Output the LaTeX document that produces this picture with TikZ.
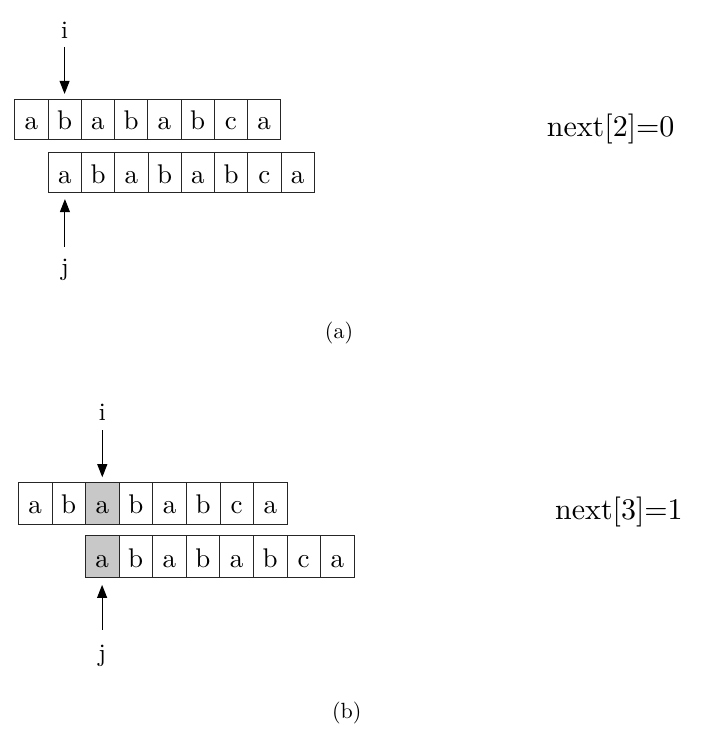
\documentclass[tikz,border=0pt]{standalone}
\usepackage{fontspec}
\setmainfont{lmroman10-regular.otf}
\usetikzlibrary{arrows.meta}
\definecolor{shade}{RGB}{200,200,200}
\begin{document}
\begin{tikzpicture}[x=1pt,y=-1pt,
  cellA/.style={draw=black!85,line width=0.8pt,minimum width=33.25pt,minimum height=40pt,inner sep=0pt,
    font=\fontsize{27}{27}\selectfont,text height=21pt,text depth=0pt},
  cellB/.style={cellA,minimum width=33.6pt,minimum height=42pt},
  hl/.style={fill=shade},
  lbl/.style={inner sep=0pt,font=\fontsize{25}{25}\selectfont},
  nextlbl/.style={inner sep=0pt,font=\fontsize{30}{30}\selectfont,anchor=base west},
  captxt/.style={inner sep=0pt,font=\fontsize{22}{22}\selectfont,anchor=base},
  arr/.style={line width=1.1pt,-{Triangle[length=13pt,width=10pt]}}]
\useasboundingbox (0,0) rectangle (704,746);
% ---------- (a) ----------
\foreach \l [count=\k] in {a,b,a,b,a,b,c,a}
  \node[cellA] (pa\k) at ({14.7+33.25*(\k-0.5)},119.3) {\l};
\foreach \l [count=\k] in {a,b,a,b,a,b,c,a}
  \node[cellA] (qa\k) at ({48.3+33.25*(\k-0.5)},172.7) {\l};
\node[lbl,anchor=base] (ia) at (pa2 |- 0,38.3) {i};
\node[lbl,anchor=base] (ja) at (qa1 |- 0,275) {j};
\draw[arr,shorten <=8.4pt,shorten >=5pt] (ia) -- (pa2);
\draw[arr,shorten <=11.5pt,shorten >=6pt] (ja) -- (qa1);
\node[nextlbl] (na) at (546.7,137) {next[2]=0};
\node[captxt] (capa) at (339,338) {(a)};
% ---------- (b) ----------
\foreach \l [count=\k] in {a,b,a,b,a,b,c,a}
  \node[cellB] (pb\k) at ({18.3+33.6*(\k-0.5)},503) {\l};
\foreach \l [count=\k] in {a,b,a,b,a,b,c,a}
  \node[cellB] (qb\k) at ({85.3+33.6*(\k-0.5)},556.5) {\l};
\node[cellB,hl] at (pb3) {a};
\node[cellB,hl] at (qb1) {a};
\node[lbl,anchor=base] (ib) at (pb3 |- 0,420) {i};
\node[lbl,anchor=base] (jb) at (qb1 |- 0,661) {j};
\draw[arr,shorten <=10pt,shorten >=4.4pt] (ib) -- (pb3);
\draw[arr,shorten <=14.5pt,shorten >=7pt] (jb) -- (qb1);
\node[nextlbl] (nb) at (555,519) {next[3]=1};
\node[captxt] (capb) at (346.7,718.3) {(b)};
\end{tikzpicture}
\end{document}
